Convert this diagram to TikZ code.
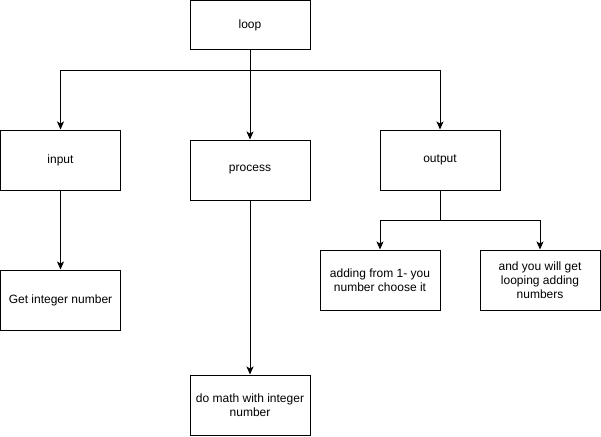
\documentclass[tikz,border=0pt]{standalone}
\usepackage{fontspec}
\setmainfont{Liberation Sans}
\usetikzlibrary{arrows.meta}
\begin{document}
\begin{tikzpicture}[x=1pt,y=-1pt,
  box/.style={draw,line width=1pt,minimum width=120pt,minimum height=60pt,inner sep=0pt,align=center,font=\fontsize{12}{14}\selectfont},
  conn/.style={line width=1pt,-{Stealth[length=8pt,width=7pt,inset=2pt]}},
  link/.style={line width=1pt}]
\useasboundingbox (0,0) rectangle (601,436);
\node[box,minimum height=49pt] (loop) at (250,25) {loop};
\node[box] (input) at (60.5,160) {input};
\node[box] (process) at (250,170) {process};
\node[box] (output) at (440,160) {output};
\node[box] (get) at (60.5,300) {Get integer number};
\node[box] (math) at (250,405) {do math with integer\\number};
\node[box] (adding) at (380,280) {adding from 1- you\\number choose it};
\node[box] (andyou) at (540,280) {and you will get\\looping adding\\numbers};
\coordinate (j1) at (250,70);
\coordinate (j2) at (440,220);
\draw[link] (loop.south) -- (j1);
\draw[conn] (j1) -| (input.north);
\draw[conn] (j1) -- (process.north);
\draw[conn] (j1) -| (output.north);
\draw[conn] (input.south) -- (get.north);
\draw[conn] (process.south) -- (math.north);
\draw[link] (output.south) -- (j2);
\draw[conn] (j2) -| (adding.north);
\draw[conn] (j2) -| (andyou.north);
\end{tikzpicture}
\end{document}
